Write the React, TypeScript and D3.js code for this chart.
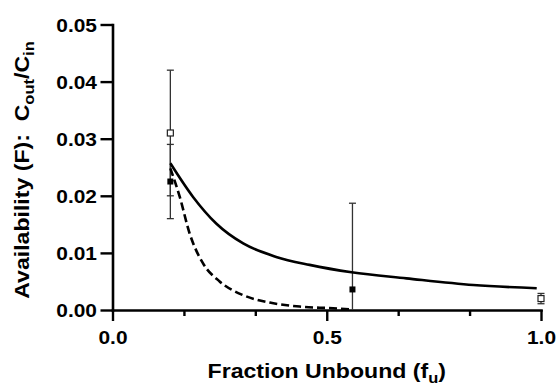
import React, { useEffect, useRef } from "react";
import * as d3 from "d3";

// model curves
const solidFu = [0.135, 0.188, 0.242, 0.305, 0.382, 0.46, 0.558, 0.686, 0.842, 0.99];
const solidF = [0.0257, 0.0198, 0.01515, 0.01166, 0.0093, 0.0079, 0.0066, 0.00554, 0.00437, 0.0038];

const dashFu = [0.135, 0.157, 0.18, 0.211, 0.25, 0.305, 0.367, 0.437, 0.515, 0.555];
const dashF = [0.0248, 0.0198, 0.0134, 0.0082, 0.005, 0.0026, 0.0013, 0.0006, 0.0003, 0.0001];

// observed points, mean +/- error
const openFu = [0.135, 1.0];
const openF = [0.031, 0.002];
const openErr = [0.011, 0.0009];

const filledFu = [0.135, 0.56];
const filledF = [0.0225, 0.0036];
const filledErr = [0.0065, 0.0151];

const yTicks = [0, 0.01, 0.02, 0.03, 0.04, 0.05];
const xMajorTicks = [0, 0.5, 1.0];
const xMinorTicks = [0.1667, 0.3333, 0.6667, 0.8333];

const WIDTH = 558;
const HEIGHT = 386;
const FONT = "'Liberation Sans', Arial, Helvetica, sans-serif";
const STRETCH = 1.1;

const AvailabilityChart = () => {
  const svgRef = useRef<SVGSVGElement>(null);

  useEffect(() => {
    const svg = d3.select(svgRef.current);
    svg.selectAll("*").remove();

    const xScale = d3.scaleLinear().domain([0, 1]).range([112.5, 541]);
    const yScale = d3.scaleLinear().domain([0, 0.05]).range([310, 24.5]);
    const x0 = xScale(0);
    const y0 = yScale(0);

    // y axis
    const yAxis = d3
      .axisLeft(yScale)
      .tickValues(yTicks)
      .tickSize(12)
      .tickSizeOuter(0)
      .tickFormat(d3.format(".2f"));

    const gy = svg.append("g").attr("transform", `translate(${x0},0)`).call(yAxis);
    gy.select(".domain").attr("stroke-width", 2.6).attr("stroke-linecap", "square");
    gy.selectAll(".tick line").attr("stroke-width", 2.4);
    gy.selectAll(".tick text")
      .attr("x", null)
      .attr("dy", null)
      .attr("transform", `translate(-15.5,6.8) scale(${STRETCH},1)`)
      .style("font-family", FONT)
      .style("font-size", "19px")
      .style("font-weight", "bold")
      .attr("fill", "#000");

    // x axis
    const xAxis = d3
      .axisBottom(xScale)
      .tickValues(xMajorTicks)
      .tickSize(11)
      .tickSizeOuter(0)
      .tickFormat(d3.format(".1f"));

    const gx = svg.append("g").attr("transform", `translate(0,${y0})`).call(xAxis);
    gx.select(".domain").attr("stroke-width", 2.6).attr("stroke-linecap", "square");
    gx.selectAll(".tick line").attr("stroke-width", 2.4);
    gx.selectAll(".tick text")
      .attr("y", null)
      .attr("dy", null)
      .attr("transform", `translate(0,33.5) scale(${STRETCH},1)`)
      .style("font-family", FONT)
      .style("font-size", "19px")
      .style("font-weight", "bold")
      .attr("fill", "#000");

    const xMinor = d3
      .axisBottom(xScale)
      .tickValues(xMinorTicks)
      .tickSize(6)
      .tickSizeOuter(0)
      .tickFormat(() => "");
    const gxm = svg.append("g").attr("transform", `translate(0,${y0})`).call(xMinor);
    gxm.select(".domain").remove();
    gxm.selectAll(".tick line").attr("stroke-width", 2.4);

    // error bars
    const errData = [
      ...openFu.map((fu, i) => ({ fu, f: openF[i], e: openErr[i] })),
      ...filledFu.map((fu, i) => ({ fu, f: filledF[i], e: filledErr[i] })),
    ];
    const eb = svg.append("g").attr("stroke", "#333").attr("stroke-width", 1.3);
    errData.forEach((d) => {
      const hi = d.f + d.e;
      const lo = Math.max(0, d.f - d.e);
      const cx = xScale(d.fu);
      eb.append("line")
        .attr("x1", cx)
        .attr("x2", cx)
        .attr("y1", yScale(hi))
        .attr("y2", yScale(lo));
      eb.append("line")
        .attr("x1", cx - 3.5)
        .attr("x2", cx + 3.5)
        .attr("y1", yScale(hi))
        .attr("y2", yScale(hi));
      if (lo > 0) {
        eb.append("line")
          .attr("x1", cx - 3.5)
          .attr("x2", cx + 3.5)
          .attr("y1", yScale(lo))
          .attr("y2", yScale(lo));
      }
    });

    // curves
    const line = d3
      .line<[number, number]>()
      .x((d) => xScale(d[0]))
      .y((d) => yScale(d[1]))
      .curve(d3.curveMonotoneX);

    svg.append("path")
      .datum(solidFu.map((fu, i) => [fu, solidF[i]] as [number, number]))
      .attr("d", line)
      .attr("fill", "none")
      .attr("stroke", "#000")
      .attr("stroke-width", 2.6);

    svg.append("path")
      .datum(dashFu.map((fu, i) => [fu, dashF[i]] as [number, number]))
      .attr("d", line)
      .attr("fill", "none")
      .attr("stroke", "#000")
      .attr("stroke-width", 2.6)
      .attr("stroke-dasharray", "8,4");

    // markers
    svg.selectAll("rect.filled")
      .data(filledFu.map((fu, i) => ({ fu, f: filledF[i] })))
      .enter()
      .append("rect")
      .attr("class", "filled")
      .attr("x", (d) => xScale(d.fu) - 3)
      .attr("y", (d) => yScale(d.f) - 3)
      .attr("width", 6)
      .attr("height", 6)
      .attr("fill", "#000");

    svg.selectAll("rect.open")
      .data(openFu.map((fu, i) => ({ fu, f: openF[i] })))
      .enter()
      .append("rect")
      .attr("class", "open")
      .attr("x", (d) => xScale(d.fu) - 3)
      .attr("y", (d) => yScale(d.f) - 3)
      .attr("width", 6)
      .attr("height", 6)
      .attr("fill", "#fff")
      .attr("stroke", "#222")
      .attr("stroke-width", 1.2);

    // axis titles
    const xt = svg
      .append("text")
      .attr("transform", `translate(${(x0 + xScale(1)) / 2},378) scale(${STRETCH},1)`)
      .attr("text-anchor", "middle")
      .style("font-family", FONT)
      .style("font-size", "21px")
      .style("font-weight", "bold");
    xt.append("tspan").text("Fraction Unbound (f");
    xt.append("tspan").attr("dy", 5).style("font-size", "15px").text("u");
    xt.append("tspan").attr("dy", -5).text(")");

    const yt = svg
      .append("text")
      .attr("transform", `translate(28.5,170) rotate(-90) scale(${STRETCH},1)`)
      .attr("text-anchor", "middle")
      .style("font-family", FONT)
      .style("font-size", "21px")
      .style("font-weight", "bold")
      .style("white-space", "pre");
    yt.append("tspan").text("Availability (F):  C");
    yt.append("tspan").attr("dy", 5).style("font-size", "15px").text("out");
    yt.append("tspan").attr("dy", -5).text("/C");
    yt.append("tspan").attr("dy", 5).style("font-size", "15px").text("in");
  }, []);

  return (
    <div style={{ position: "absolute", left: 0, top: 0, background: "#fff" }}>
      <svg ref={svgRef} width={WIDTH} height={HEIGHT} style={{ display: "block" }} />
    </div>
  );
};

export default function App() {
  return <AvailabilityChart />;
}
